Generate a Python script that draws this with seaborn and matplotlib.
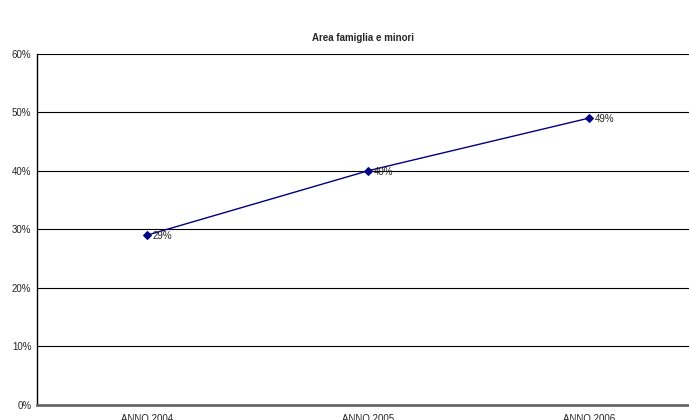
import numpy as np
import pandas as pd
import seaborn as sns
import matplotlib
matplotlib.use("Agg")
import matplotlib.pyplot as plt
from matplotlib.ticker import PercentFormatter, FixedLocator

# === Data ===
anni = ["ANNO 2004", "ANNO 2005", "ANNO 2006"]
valori = [0.29, 0.40, 0.49]
etichette = ["29%", "40%", "49%"]
y_ticks = [0, 0.1, 0.2, 0.3, 0.4, 0.5, 0.6]

df = pd.DataFrame({"anno": anni, "valore": valori})

# === Style ===
sns.set_style("white")
plt.rcParams["font.family"] = ["Liberation Sans", "DejaVu Sans"]

fig = plt.figure(figsize=(6.89, 4.20), dpi=100)
ax = fig.add_axes([37 / 689, 15.3 / 420, (689 - 37) / 689, 351 / 420])

sns.lineplot(data=df, x="anno", y="valore", ax=ax, color="#000080",
             marker="D", markersize=4, markeredgecolor="#000080",
             linewidth=1, sort=False)

# === Labels on points ===
for i, (v, t) in enumerate(zip(valori, etichette)):
    ax.annotate(t, (i, v), xytext=(4, -1), textcoords="offset points",
                fontsize=7, va="center", ha="left", color="#222222")

# === Axes ===
ax.set_xlim(-0.5, 2.452)
ax.set_ylim(0, 0.6)
ax.set_yticks(y_ticks)
ax.yaxis.set_major_formatter(PercentFormatter(1.0, decimals=0))
ax.set_xticks(range(len(anni)))
ax.set_xticklabels(anni)
ax.xaxis.set_minor_locator(FixedLocator([0.5, 1.5]))
ax.tick_params(axis="x", which="major", length=0, labelsize=7, pad=7)
ax.tick_params(axis="x", which="minor", length=4, width=1, color="black", direction="out")
ax.tick_params(axis="y", length=3, width=0.8, labelsize=7, pad=1, color="black")
ax.set_xlabel("")
ax.set_ylabel("")

ax.yaxis.grid(True, color="black", linewidth=0.8)
ax.set_axisbelow(True)
for s in ["top", "right"]:
    ax.spines[s].set_visible(False)
ax.spines["left"].set_color("black")
ax.spines["left"].set_linewidth(1)
ax.spines["bottom"].set_color("#666666")
ax.spines["bottom"].set_linewidth(2)

fig.text(363 / 689, 1 - 38 / 420, "Area famiglia e minori", ha="center", va="center",
         fontsize=7, fontweight="bold")

fig.savefig("out.png", dpi=100)
